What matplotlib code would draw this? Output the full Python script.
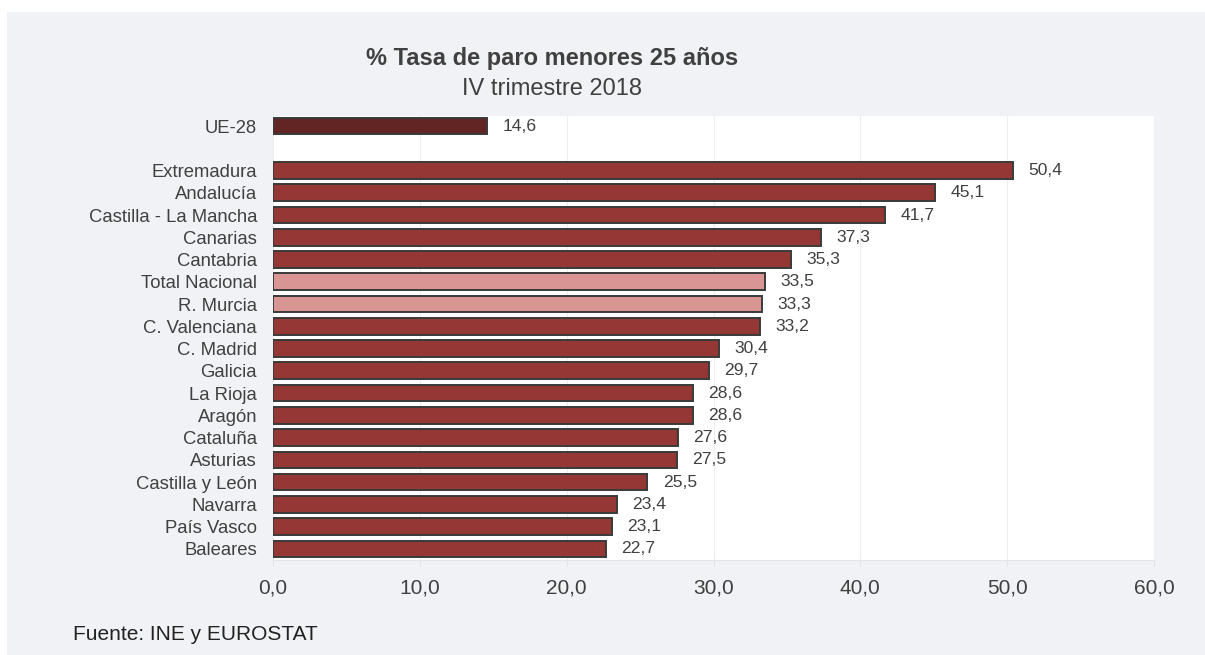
"""Tasa de paro menores de 25 años por CCAA — barras horizontales."""

import matplotlib
matplotlib.use("Agg")
import matplotlib.pyplot as plt
from matplotlib.patches import Rectangle

plt.rcParams["font.family"] = ["Liberation Sans", "DejaVu Sans"]

# Datos (IV trimestre 2018)
eu_label = "UE-28"
eu_value = 14.6
regions = ["Extremadura", "Andalucía", "Castilla - La Mancha", "Canarias", "Cantabria",
           "Total Nacional", "R. Murcia", "C. Valenciana", "C. Madrid", "Galicia",
           "La Rioja", "Aragón", "Cataluña", "Asturias", "Castilla y León",
           "Navarra", "País Vasco", "Baleares"]
values = [50.4, 45.1, 41.7, 37.3, 35.3, 33.5, 33.3, 33.2, 30.4, 29.7,
          28.6, 28.6, 27.6, 27.5, 25.5, 23.4, 23.1, 22.7]
highlight = ["Total Nacional", "R. Murcia"]
x_ticks = [0, 10, 20, 30, 40, 50, 60]

TEXT = "#404040"
BAR = "#953735"
BAR_EU = "#632523"
BAR_HL = "#D99594"
EDGE = "#3a3a3a"

fig = plt.figure(figsize=(12.05, 6.55), dpi=100, facecolor="white")
# grey panel behind everything
fig.patches.append(Rectangle((7 / 1205, 0), 1, 1 - 12 / 655, transform=fig.transFigure,
                             facecolor="#F1F2F6", edgecolor="none", zorder=-10))

ax = fig.add_axes([273 / 1205, 1 - 560 / 655, 881 / 1205, 444 / 655])
ax.set_facecolor("white")

n = len(regions)
ypos = [n - 1 - i for i in range(n)]
colors = [BAR_HL if r in highlight else BAR for r in regions]
ax.barh(ypos, values, height=0.75, color=colors, edgecolor=EDGE, linewidth=1.4, zorder=3)
eu_y = n + 1
ax.barh([eu_y], [eu_value], height=0.75, color=BAR_EU, edgecolor=EDGE, linewidth=1.4, zorder=3)

for y, v in list(zip(ypos, values)) + [(eu_y, eu_value)]:
    ax.annotate(f"{v:.1f}".replace(".", ","), (v, y), xytext=(11, 0),
                textcoords="offset points", va="center", ha="left",
                fontsize=12.6, color=TEXT)

ax.set_yticks(ypos + [eu_y])
ax.set_yticklabels(regions + [eu_label], fontsize=13.3, color=TEXT)
ax.set_ylim(-0.5, eu_y + 0.45)

ax.set_xlim(0, 60)
ax.set_xticks(x_ticks)
ax.set_xticklabels([f"{t:.1f}".replace(".", ",") for t in x_ticks], fontsize=15, color=TEXT)
ax.tick_params(axis="y", length=0, pad=11.5)
ax.tick_params(axis="x", length=4, color="#E3E3E3", pad=9)

ax.grid(axis="x", color="#EEEEEE", linewidth=0.8, zorder=0)
for s in ["top", "right", "left"]:
    ax.spines[s].set_visible(False)
ax.spines["bottom"].set_color("#E3E3E3")
ax.spines["bottom"].set_linewidth(0.8)

fig.text(552 / 1205, 1 - 65 / 655, "% Tasa de paro menores 25 años", ha="center",
         va="baseline", fontsize=17, fontweight="bold", color=TEXT)
fig.text(552 / 1205, 1 - 95 / 655, "IV trimestre 2018", ha="center",
         va="baseline", fontsize=17, color=TEXT)
fig.text(73 / 1205, 1 - 640 / 655, "Fuente: INE y EUROSTAT", ha="left",
         va="baseline", fontsize=15, color="#222222")

fig.savefig("out.png", dpi=100, facecolor=fig.get_facecolor())
